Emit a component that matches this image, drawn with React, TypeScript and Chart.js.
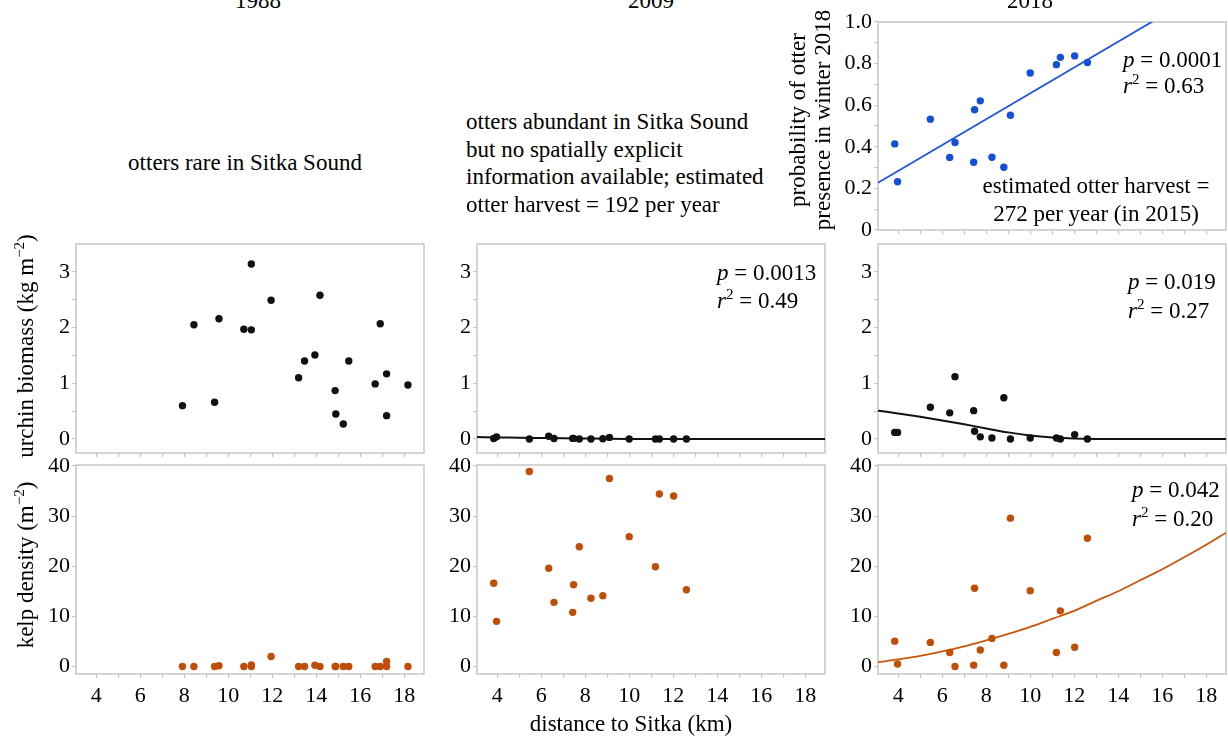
import React, { useEffect, useRef } from "react";
import { Chart, registerables } from "chart.js";

Chart.register(...registerables);

const FONT = '"Liberation Serif", "Times New Roman", serif';
const GRAY = "#c6c6c6";
const BLACK = "#111111";
const ORANGE = "#c04d08";
const ORANGE_LINE = "#c9560e";
const BLUE = "#1450d6";
const BLUE_LINE = "#1f55dc";
const TEXT_SIZE = 23;

// ---- tick values / labels ----
const X_TICKS = [4, 5, 6, 7, 8, 9, 10, 11, 12, 13, 14, 15, 16, 17, 18];
const X_TICK_LABELS = ["4", "", "6", "", "8", "", "10", "", "12", "", "14", "", "16", "", "18"];
const URCHIN_TICKS = [0, 0.5, 1, 1.5, 2, 2.5, 3];
const URCHIN_TICK_LABELS = ["0", "", "1", "", "2", "", "3"];
const KELP_TICKS = [0, 10, 20, 30, 40];
const KELP_TICK_LABELS = ["0", "10", "20", "30", "40"];
const PROB_TICKS = [0, 0.1, 0.2, 0.3, 0.4, 0.5, 0.6, 0.7, 0.8, 0.9, 1.0];
const PROB_TICK_LABELS = ["0", "", "0.2", "", "0.4", "", "0.6", "", "0.8", "", "1.0"];

// ---- 1988 survey (21 sites) ----
const sites1988 = [7.92, 8.44, 9.38, 9.58, 10.71, 11.05, 11.05, 11.95, 13.2, 13.47, 13.94, 14.17, 14.86, 14.89, 15.23, 15.48, 16.68, 16.91, 17.2, 17.2, 18.17];
const urchin1988 = [0.6, 2.05, 0.66, 2.16, 1.97, 3.14, 1.96, 2.49, 1.1, 1.4, 1.51, 2.58, 0.87, 0.45, 0.27, 1.4, 0.99, 2.07, 1.17, 0.42, 0.97];
const kelp1988 = [0, 0, 0, 0.15, 0, 0.3, 0, 2.0, 0, 0, 0.25, 0, 0, 0, 0, 0, 0, 0, 1.0, 0, 0];

// ---- 2009 / 2018 surveys (16 sites) ----
const sitesRecent = [3.84, 3.97, 5.46, 6.34, 6.58, 7.43, 7.47, 7.73, 8.26, 8.8, 9.1, 10.0, 11.19, 11.37, 12.02, 12.6];
const urchin2009 = [0.01, 0.04, 0.0, 0.05, 0.01, 0.012, 0.012, 0.0, 0.0, 0.006, 0.03, 0.0, 0.0, 0.0, 0.0, 0.0];
const kelp2009 = [16.6, 9.0, 38.9, 19.6, 12.8, 10.8, 16.3, 23.9, 13.6, 14.1, 37.5, 25.9, 19.9, 34.4, 34.0, 15.3];
const otter2018 = [0.414, 0.232, 0.533, 0.349, 0.421, 0.326, 0.578, 0.621, 0.35, 0.302, 0.552, 0.755, 0.795, 0.83, 0.837, 0.805];
const urchin2018 = [0.12, 0.12, 0.57, 0.47, 1.12, 0.51, 0.14, 0.04, 0.02, 0.74, 0.0, 0.02, 0.02, 0.0, 0.08, 0.0];
const kelp2018 = [5.05, 0.5, 4.8, 2.8, 0.0, 0.27, 15.6, 3.3, 5.6, 0.27, 29.6, 15.1, 2.8, 11.1, 3.85, 25.6];

// ---- fitted curves ----
const fitX = [3.08, 4, 5, 6, 7, 8, 9, 10, 11, 12, 13, 14, 15, 16, 17, 18, 18.9];
const urchin2009Fit = [0.035, 0.03, 0.024, 0.019, 0.014, 0.01, 0.006, 0.003, 0.001, 0, 0, 0, 0, 0, 0, 0, 0];
const urchin2018Fit = [0.51, 0.46, 0.4, 0.335, 0.265, 0.19, 0.12, 0.065, 0.03, 0.01, 0.002, 0, 0, 0, 0, 0, 0];
const kelp2018Fit = [0.85, 1.4, 2.1, 3.0, 4.0, 5.2, 6.5, 7.9, 9.5, 11.1, 13.1, 15.0, 17.2, 19.4, 21.8, 24.3, 26.7];
const otterFitX = [3.08, 18.9];
const otterFitY = [0.227, 1.21];

const X_MIN = 3.08;
const X_MAX = 18.9;

const pts = (xs: number[], ys: number[]) => xs.map((x, i) => ({ x, y: ys[i] }));

const dots = (xs: number[], ys: number[], color: string) => ({
  data: pts(xs, ys),
  backgroundColor: color,
  borderColor: color,
  borderWidth: 0,
  pointRadius: 3.7,
  pointHoverRadius: 3.7,
  showLine: false,
  order: 0,
});

const curve = (xs: number[], ys: number[], color: string, width: number) => ({
  data: pts(xs, ys),
  borderColor: color,
  backgroundColor: color,
  borderWidth: width,
  pointRadius: 0,
  showLine: true,
  tension: 0.4,
  cubicInterpolationMode: "monotone",
  order: 1,
});

const boxPlugin = {
  id: "panelBox",
  beforeDatasetsDraw(chart: any) {
    const { ctx, chartArea: a } = chart;
    ctx.save();
    ctx.strokeStyle = GRAY;
    ctx.lineWidth = 1.5;
    ctx.strokeRect(a.left, a.top, a.right - a.left, a.bottom - a.top);
    ctx.restore();
  },
};

type PanelProps = {
  left: number;
  top: number;
  w: number;
  h: number;
  yMin: number;
  yMax: number;
  yTicks: number[];
  yTickLabels: string[];
  xLabels: boolean;
  datasets: any[];
};

function Panel(p: PanelProps) {
  const ref = useRef<HTMLCanvasElement>(null);
  const AX = 70;
  const PT = 22;
  const PR = 6;
  const BX = p.xLabels ? 44 : 24;
  const cw = p.w + AX + PR;
  const ch = p.h + PT + BX;

  useEffect(() => {
    const chart = new Chart(ref.current as HTMLCanvasElement, {
      type: "scatter",
      data: { datasets: p.datasets },
      options: {
        animation: false,
        responsive: false,
        maintainAspectRatio: false,
        events: [],
        layout: { padding: { top: PT, right: PR, left: 0, bottom: 0 } },
        plugins: { legend: { display: false }, tooltip: { enabled: false } },
        scales: {
          x: {
            type: "linear",
            position: "bottom",
            bounds: "data",
            min: X_MIN,
            max: X_MAX,
            afterBuildTicks: (s: any) => {
              s.ticks = X_TICKS.map((v) => ({ value: v }));
            },
            afterFit: (s: any) => {
              s.height = BX;
            },
            ticks: {
              autoSkip: false,
              maxRotation: 0,
              minRotation: 0,
              padding: 5,
              color: "#000",
              font: { family: FONT, size: 22 },
              callback: (_v: any, i: number) => (p.xLabels ? X_TICK_LABELS[i] : ""),
            },
            grid: { drawOnChartArea: false, drawTicks: true, tickLength: 4, color: GRAY, lineWidth: 1.2 },
            border: { display: false },
          },
          y: {
            type: "linear",
            position: "left",
            bounds: "data",
            min: p.yMin,
            max: p.yMax,
            afterBuildTicks: (s: any) => {
              s.ticks = p.yTicks.map((v) => ({ value: v }));
            },
            afterFit: (s: any) => {
              s.width = AX;
            },
            ticks: {
              autoSkip: false,
              padding: 2,
              color: "#000",
              font: { family: FONT, size: 22 },
              callback: (_v: any, i: number) => p.yTickLabels[i],
            },
            grid: { drawOnChartArea: false, drawTicks: true, tickLength: 4, color: GRAY, lineWidth: 1.2 },
            border: { display: false },
          },
        },
      } as any,
      plugins: [boxPlugin],
    });
    return () => chart.destroy();
  }, []);

  return (
    <canvas
      ref={ref}
      width={cw}
      height={ch}
      style={{ position: "absolute", left: p.left - AX, top: p.top - PT, width: cw, height: ch }}
    />
  );
}

function Txt(props: { x: number; y: number; align?: string; size?: number; children: any }) {
  const size = props.size ?? TEXT_SIZE;
  const align = props.align ?? "left";
  const tx = align === "center" ? "-50%" : align === "right" ? "-100%" : "0";
  return (
    <div
      style={{
        position: "absolute",
        left: props.x,
        top: props.y - (18.4 * size) / 22,
        fontFamily: FONT,
        fontSize: size,
        lineHeight: size + "px",
        whiteSpace: "nowrap",
        color: "#000",
        transform: `translateX(${tx})`,
      }}
    >
      {props.children}
    </div>
  );
}

function VTxt(props: { cx: number; cy: number; children: any }) {
  return (
    <div
      style={{
        position: "absolute",
        left: props.cx,
        top: props.cy,
        fontFamily: FONT,
        fontSize: TEXT_SIZE,
        lineHeight: TEXT_SIZE + "px",
        whiteSpace: "nowrap",
        color: "#000",
        transform: "translate(-50%, -50%) rotate(-90deg)",
      }}
    >
      {props.children}
    </div>
  );
}

const Sup = (props: { children: any }) => (
  <span style={{ fontSize: 15, position: "relative", top: -9, lineHeight: 0 }}>{props.children}</span>
);

export default function App() {
  const colLeft = [76, 477, 878];
  const W = 348;
  const midTop = 244;
  const botTop = 465;
  const H = 209;

  return (
    <div style={{ position: "absolute", left: 0, top: 0, width: 1228, height: 740, background: "#fff", overflow: "hidden" }}>
      {/* top-right: otter presence */}
      <Panel
        left={878}
        top={22}
        w={W}
        h={208}
        yMin={0}
        yMax={1}
        yTicks={PROB_TICKS}
        yTickLabels={PROB_TICK_LABELS}
        xLabels={false}
        datasets={[dots(sitesRecent, otter2018, BLUE), curve(otterFitX, otterFitY, BLUE_LINE, 1.8)]}
      />

      {/* urchin row */}
      <Panel left={colLeft[0]} top={midTop} w={W} h={H} yMin={-0.25} yMax={3.5} yTicks={URCHIN_TICKS} yTickLabels={URCHIN_TICK_LABELS} xLabels={false}
        datasets={[dots(sites1988, urchin1988, BLACK)]} />
      <Panel left={colLeft[1]} top={midTop} w={W} h={H} yMin={-0.25} yMax={3.5} yTicks={URCHIN_TICKS} yTickLabels={URCHIN_TICK_LABELS} xLabels={false}
        datasets={[dots(sitesRecent, urchin2009, BLACK), curve(fitX, urchin2009Fit, BLACK, 2)]} />
      <Panel left={colLeft[2]} top={midTop} w={W} h={H} yMin={-0.25} yMax={3.5} yTicks={URCHIN_TICKS} yTickLabels={URCHIN_TICK_LABELS} xLabels={false}
        datasets={[dots(sitesRecent, urchin2018, BLACK), curve(fitX, urchin2018Fit, BLACK, 2)]} />

      {/* kelp row */}
      <Panel left={colLeft[0]} top={botTop} w={W} h={H} yMin={-1.5} yMax={40.2} yTicks={KELP_TICKS} yTickLabels={KELP_TICK_LABELS} xLabels={true}
        datasets={[dots(sites1988, kelp1988, ORANGE)]} />
      <Panel left={colLeft[1]} top={botTop} w={W} h={H} yMin={-1.5} yMax={40.2} yTicks={KELP_TICKS} yTickLabels={KELP_TICK_LABELS} xLabels={true}
        datasets={[dots(sitesRecent, kelp2009, ORANGE)]} />
      <Panel left={colLeft[2]} top={botTop} w={W} h={H} yMin={-1.5} yMax={40.2} yTicks={KELP_TICKS} yTickLabels={KELP_TICK_LABELS} xLabels={true}
        datasets={[dots(sitesRecent, kelp2018, ORANGE), curve(fitX, kelp2018Fit, ORANGE_LINE, 1.8)]} />

      {/* column headers */}
      <Txt x={258} y={8} align="center">1988</Txt>
      <Txt x={651} y={8} align="center">2009</Txt>
      <Txt x={1030} y={8} align="center">2018</Txt>

      {/* top-row notes */}
      <Txt x={245} y={170} align="center">otters rare in Sitka Sound</Txt>
      <Txt x={466} y={129.5}>otters abundant in Sitka Sound</Txt>
      <Txt x={466} y={157}>but no spatially explicit</Txt>
      <Txt x={466} y={184.5}>information available; estimated</Txt>
      <Txt x={466} y={212}>otter harvest = 192 per year</Txt>

      {/* otter panel annotations */}
      <Txt x={1123} y={67}><i>p</i> = 0.0001</Txt>
      <Txt x={1123} y={93}><i>r</i><Sup>2</Sup> = 0.63</Txt>
      <Txt x={1096} y={193} align="center">estimated otter harvest =</Txt>
      <Txt x={1096} y={221} align="center">272 per year (in 2015)</Txt>

      {/* urchin annotations */}
      <Txt x={717} y={280}><i>p</i> = 0.0013</Txt>
      <Txt x={717} y={308}><i>r</i><Sup>2</Sup> = 0.49</Txt>
      <Txt x={1128} y={289}><i>p</i> = 0.019</Txt>
      <Txt x={1128} y={318}><i>r</i><Sup>2</Sup> = 0.27</Txt>

      {/* kelp annotations */}
      <Txt x={1132} y={497}><i>p</i> = 0.042</Txt>
      <Txt x={1132} y={526}><i>r</i><Sup>2</Sup> = 0.20</Txt>

      {/* axis titles */}
      <VTxt cx={25} cy={346}>urchin biomass (kg m<Sup>−2</Sup>)</VTxt>
      <VTxt cx={25} cy={565}>kelp density (m<Sup>−2</Sup>)</VTxt>
      <VTxt cx={797} cy={120}>probability of otter</VTxt>
      <VTxt cx={822} cy={120}>presence in winter 2018</VTxt>
      <Txt x={631} y={731} align="center">distance to Sitka (km)</Txt>
    </div>
  );
}
